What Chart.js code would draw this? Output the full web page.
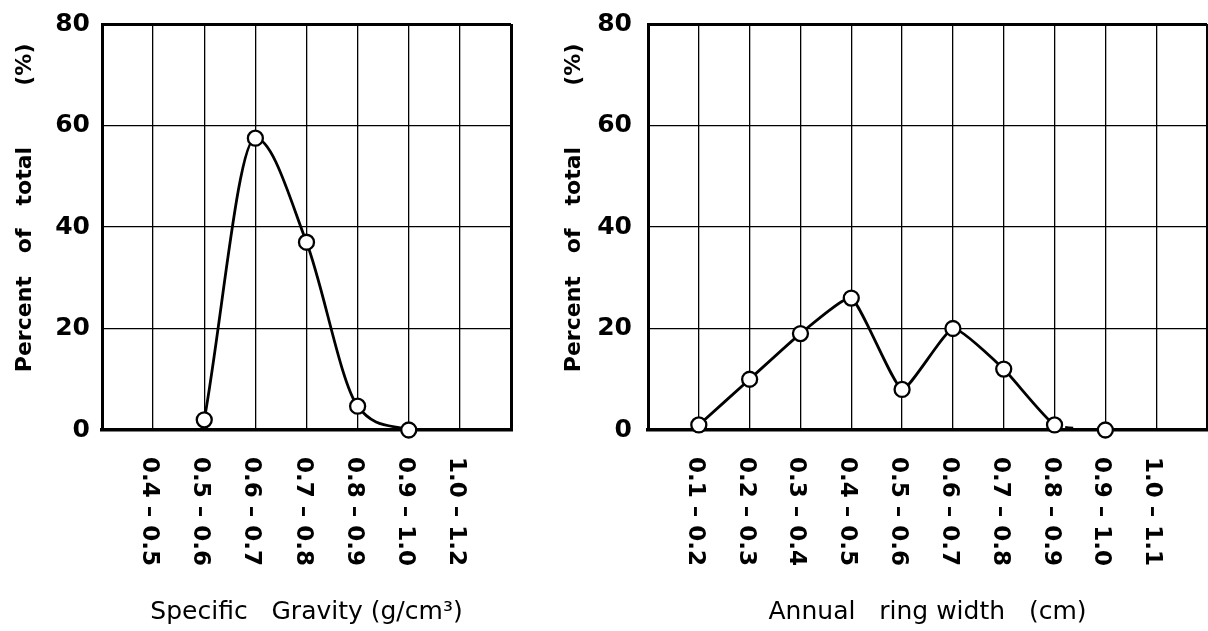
<!DOCTYPE html>
<html>
<head>
<meta charset="utf-8">
<script src="https://cdn.jsdelivr.net/npm/chart.js@4.4.1/dist/chart.umd.min.js"></script>
<style>
  body{margin:0;background:#fff;width:1208px;height:631px;overflow:hidden;position:relative}
  .box{position:absolute;top:0;height:631px}
  #left{left:0;width:540px}
  #right{left:550px;width:658px}
</style>
</head>
<body>
<div class="box" id="left"><canvas id="sgChart"></canvas></div>
<div class="box" id="right"><canvas id="ringChart"></canvas></div>
<script>
// specific gravity classes (g/cm3)
const sgLabels=['0.4 – 0.5','0.5 – 0.6','0.6 – 0.7','0.7 – 0.8','0.8 – 0.9','0.9 – 1.0','1.0 – 1.2'];
const sgValues=[null,2,57.5,37,4.7,0,null];

// annual ring width classes (cm)
const ringLabels=['0.1 – 0.2','0.2 – 0.3','0.3 – 0.4','0.4 – 0.5','0.5 – 0.6','0.6 – 0.7','0.7 – 0.8','0.8 – 0.9','0.9 – 1.0','1.0 – 1.1'];
const ringValues=[1,10,19,26,8,20,12,1,0,null];

const yMax=80;
const yStep=20;

const NB='\u00a0';
const yTitle=NB.repeat(5)+'Percent'+NB.repeat(3)+'of'+NB.repeat(3)+'total'+NB.repeat(8)+'(%)';

// x labels read top to bottom, so they are drawn here instead of by chart.js
const rotatedLabels={
  id:'rotatedLabels',
  afterDraw(chart,args,opts){
    const sc=chart.scales.x;
    const ctx=chart.ctx;
    ctx.save();
    ctx.fillStyle='#000';
    ctx.font='bold 23px "DejaVu Sans"';
    ctx.textAlign='left';
    ctx.textBaseline='middle';
    opts.labels.forEach((t,i)=>{
      const x=sc.getPixelForValue(i+1);
      ctx.save();
      ctx.translate(x-4,sc.top+27);
      ctx.rotate(Math.PI/2);
      ctx.fillText(t,0,0);
      ctx.restore();
    });
    ctx.restore();
  }
};

function makeChart(id,labels,values,xTitle,o){
  const xMax=labels.length+1;
  return new Chart(document.getElementById(id).getContext('2d'),{
    type:'line',
    data:{
      datasets:[{
        data:values.map((v,i)=>({x:i+1,y:v})),
        borderColor:'#000',
        borderWidth:2.8,
        pointRadius:7.5,
        pointBackgroundColor:'#fff',
        pointBorderColor:'#000',
        pointBorderWidth:2.3,
        clip:false,
        tension:o.tension,
        cubicInterpolationMode:o.mode,
        segment:o.segment||{}
      }]
    },
    plugins:[rotatedLabels],
    options:{
      responsive:true,
      maintainAspectRatio:false,
      animation:false,
      layout:{autoPadding:false,padding:{top:24,right:o.right,left:0,bottom:0}},
      plugins:{
        legend:{display:false},
        tooltip:{enabled:false},
        rotatedLabels:{labels:labels}
      },
      scales:{
        x:{
          type:'linear',
          min:0,
          max:xMax,
          afterFit:s=>{s.height=201},
          ticks:{display:false,stepSize:1},
          grid:{color:'#000',drawTicks:false,
            lineWidth:c=>(c.tick.value===0||c.tick.value===xMax)?3:1.3},
          border:{display:true,color:'#000',width:3.5},
          title:{display:true,text:xTitle,color:'#000',
            font:{family:'DejaVu Sans',size:25},padding:{top:0,bottom:4}}
        },
        y:{
          min:0,
          max:yMax,
          afterFit:s=>{s.width=o.yWidth},
          ticks:{stepSize:yStep,padding:0,color:'#000',
            font:{family:'DejaVu Sans',weight:'bold',size:25}},
          // invisible tick marks give the gap between labels and axis
          grid:{color:'#000',drawTicks:true,tickLength:o.tickPad,tickColor:'transparent',
            lineWidth:c=>c.tick.value===yMax?3:1.3},
          border:{display:true,color:'#000',width:3},
          title:{display:true,text:yTitle,color:'#000',
            font:{family:'DejaVu Sans',weight:'bold',size:22},padding:{top:o.titlePad,bottom:0}}
        }
      }
    }
  });
}

makeChart('sgChart',sgLabels,sgValues,
  'Specific'+NB.repeat(3)+'Gravity (g/cm³)',
  {right:29,yWidth:102,tickPad:12,titlePad:12,tension:0.4,mode:'monotone'});

makeChart('ringChart',ringLabels,ringValues,
  'Annual'+NB.repeat(3)+'ring width'+NB.repeat(3)+'(cm)',
  {right:1,yWidth:98,tickPad:16,titlePad:11,tension:0.15,mode:'default',
   segment:{borderDash:c=>c.p0DataIndex===7?[0,11,8,1000]:undefined}});
</script>
</body>
</html>
